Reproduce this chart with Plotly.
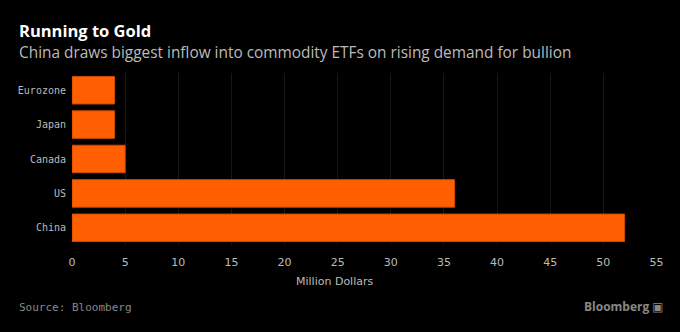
import plotly.graph_objects as go

categories = ["China", "US", "Canada", "Japan", "Eurozone"]
values = [52, 36, 5, 4, 4]
tick_vals = [0, 5, 10, 15, 20, 25, 30, 35, 40, 45, 50, 55]

W, H = 680.0, 332.0
ML, MR, MT, MB = 72, 23, 73, 87
pw = W - ML - MR
ph = H - MT - MB


def px(xp):
    return (xp - ML) / pw


def py(yp):
    return (H - MB - yp) / ph


fig = go.Figure()
fig.add_trace(go.Bar(
    y=categories, x=values, orientation="h",
    marker=dict(color="#ff5f00", line=dict(color="#c94a00", width=1)),
    hoverinfo="skip",
))

fig.update_layout(
    width=680, height=332,
    paper_bgcolor="#000000", plot_bgcolor="#000000",
    margin=dict(l=ML, r=MR, t=MT, b=MB),
    bargap=0.2,
    showlegend=False,
    font=dict(family="DejaVu Sans Mono", color="#bbbbbb", size=10),
    xaxis=dict(
        range=[0, 55.05], tickvals=tick_vals,
        showgrid=True, gridcolor="#171717", gridwidth=1,
        zeroline=False, showline=False,
        tickfont=dict(family="DejaVu Sans", size=11, color="#bbbbbb"),
        ticks="outside", ticklen=7, tickcolor="#000000",
    ),
    yaxis=dict(
        range=[-0.5, 4.5],
        showgrid=False, zeroline=False, showline=False,
        tickfont=dict(family="DejaVu Sans Mono", size=10, color="#bbbbbb"),
        ticks="outside", ticklen=3, tickcolor="#000000",
    ),
)

fig.add_annotation(text="<b>Running to Gold</b>", x=px(17), y=py(30), xref="paper", yref="paper",
                   xanchor="left", yanchor="middle", showarrow=False,
                   font=dict(family="Open Sans", size=16.5, color="#ffffff"))
fig.add_annotation(text="China draws biggest inflow into commodity ETFs on rising demand for bullion",
                   x=px(17), y=py(52), xref="paper", yref="paper",
                   xanchor="left", yanchor="middle", showarrow=False,
                   font=dict(family="Open Sans", size=15.4, color="#bbbbbb"))
fig.add_annotation(text="Million Dollars", x=px(334), y=py(281), xref="paper", yref="paper",
                   xanchor="center", yanchor="middle", showarrow=False,
                   font=dict(family="DejaVu Sans", size=11, color="#bbbbbb"))
fig.add_annotation(text="Source: Bloomberg", x=px(17), y=py(307), xref="paper", yref="paper",
                   xanchor="left", yanchor="middle", showarrow=False,
                   font=dict(family="DejaVu Sans Mono", size=11, color="#888888"))
fig.add_annotation(text="<b>Bloomberg</b> ▣", x=px(665), y=py(306), xref="paper", yref="paper",
                   xanchor="right", yanchor="middle", showarrow=False,
                   font=dict(family="Open Sans", size=12, color="#888888"))

fig.write_html("out.html")
